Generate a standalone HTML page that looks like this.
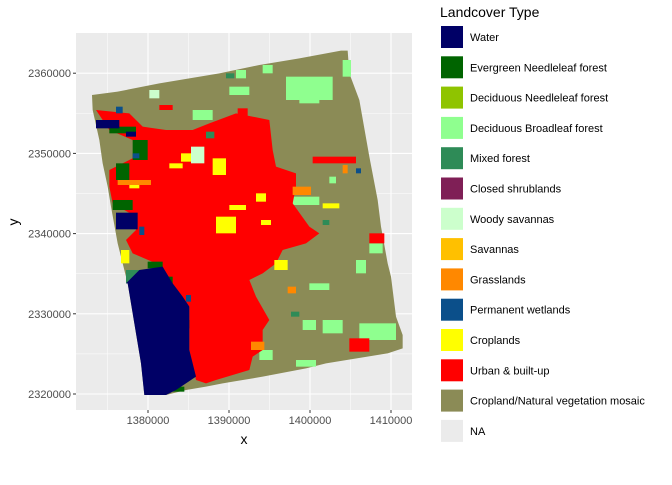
<!DOCTYPE html>
<html><head><meta charset="utf-8"><style>
body{margin:0;background:#fff;font-family:"Liberation Sans",sans-serif;}
</style></head><body>
<svg width="672" height="480" viewBox="0 0 672 480" font-family="Liberation Sans, sans-serif">
<rect x="76" y="33" width="336" height="377" fill="#ebebeb"/>
<g id="grid" stroke="#fff"></g>
<g transform="translate(76,30) scale(0.33333)">
<polygon fill="#8b8b56" points="48,195 125,185 250,160 430,130 550,105 670,85 795,62 815,62 820,130 850,210 880,380 905,510 915,590 935,700 945,740 960,860 980,915 980,955 935,970 750,1000 690,1015 560,1040 440,1060 390,1070 330,1080 270,1095 205,1095 195,1000 170,850 155,760 140,700 125,640 105,530 95,470 80,400 70,330 50,240"/>
<g fill="#8fff8f">
<rect x="630" y="140" width="140" height="70"/><rect x="670" y="200" width="60" height="20"/><rect x="800" y="90" width="25" height="50"/><rect x="460" y="170" width="60" height="25"/><rect x="350" y="240" width="60" height="30"/><rect x="560" y="105" width="30" height="25"/><rect x="480" y="120" width="30" height="25"/>
<rect x="850" y="880" width="110" height="50"/><rect x="740" y="870" width="60" height="40"/><rect x="680" y="870" width="40" height="30"/><rect x="880" y="640" width="40" height="30"/><rect x="650" y="500" width="80" height="25"/><rect x="700" y="760" width="60" height="20"/><rect x="660" y="990" width="60" height="20"/><rect x="550" y="960" width="40" height="30"/><rect x="840" y="690" width="30" height="40"/><rect x="760" y="440" width="20" height="20"/>
</g>
<polygon fill="#ff0000" points="60,240 160,250 200,290 270,300 350,300 400,280 480,250 580,270 590,360 600,410 660,430 660,470 650,520 700,590 730,610 690,640 620,660 600,700 560,730 520,750 540,800 580,870 560,900 560,960 530,980 520,1020 420,1050 390,1060 360,1050 340,960 340,830 300,790 260,740 240,700 170,670 150,630 180,600 180,560 110,520 100,470 100,420 180,380 170,330 100,300"/>
<g fill="#ff0000"><rect x="710" y="380" width="130" height="20"/><rect x="820" y="925" width="60" height="40"/><rect x="880" y="610" width="45" height="30"/><rect x="250" y="225" width="40" height="15"/><rect x="485" y="235" width="30" height="25"/></g>
<g fill="#ffff00">
<rect x="410" y="385" width="40" height="50"/><rect x="420" y="560" width="60" height="50"/><rect x="280" y="400" width="40" height="15"/><rect x="315" y="370" width="30" height="25"/><rect x="540" y="490" width="30" height="25"/><rect x="460" y="525" width="50" height="15"/><rect x="595" y="690" width="40" height="30"/><rect x="135" y="660" width="25" height="40"/><rect x="160" y="460" width="30" height="15"/><rect x="740" y="520" width="50" height="15"/><rect x="555" y="570" width="30" height="15"/></g>
<g fill="#ccffcc"><rect x="345" y="350" width="40" height="50"/><rect x="220" y="180" width="30" height="25"/></g>
<g fill="#ff8800"><rect x="125" y="450" width="100" height="15"/><rect x="650" y="470" width="55" height="25"/><rect x="800" y="405" width="15" height="25"/><rect x="525" y="935" width="40" height="25"/><rect x="635" y="770" width="25" height="20"/></g>
<g fill="#006400">
<rect x="170" y="330" width="45" height="60"/><rect x="120" y="400" width="40" height="50"/><rect x="110" y="510" width="60" height="30"/><rect x="100" y="290" width="80" height="20"/><rect x="260" y="740" width="30" height="25"/><rect x="290" y="1070" width="35" height="15"/><rect x="315" y="870" width="25" height="25"/><rect x="215" y="695" width="45" height="20"/></g>
<g fill="#2e8b57"><rect x="150" y="720" width="40" height="40"/><rect x="450" y="130" width="25" height="15"/><rect x="390" y="305" width="25" height="20"/><rect x="645" y="845" width="25" height="15"/><rect x="740" y="570" width="20" height="15"/></g>
<polygon fill="#000066" points="150,760 190,720 260,710 290,760 320,800 340,830 340,960 360,1040 300,1080 270,1095 205,1095 195,1000 170,850 155,760"/>
<g fill="#000066"><rect x="60" y="270" width="70" height="25"/><rect x="120" y="548" width="65" height="50"/><rect x="150" y="305" width="30" height="15"/></g>
<g fill="#0b4f8a"><rect x="120" y="230" width="20" height="20"/><rect x="170" y="370" width="20" height="15"/><rect x="190" y="590" width="15" height="25"/><rect x="330" y="795" width="15" height="20"/><rect x="840" y="415" width="15" height="15"/></g>
</g>
<g id="axes" font-size="11" fill="#4d4d4d"></g>
<text x="244" y="444" font-size="14" text-anchor="middle" fill="#000">x</text>
<text x="18" y="222" font-size="14" text-anchor="middle" fill="#000" transform="rotate(-90 18 222)">y</text>
<text x="440" y="17" font-size="14" fill="#000">Landcover Type</text>
<g id="legend" font-size="11" fill="#000"></g>
</svg>
<script>
const xTicks=[1380000,1390000,1400000,1410000];
const yTicks=[2320000,2330000,2340000,2350000,2360000];
const legendLabels=["Water","Evergreen Needleleaf forest","Deciduous Needleleaf forest","Deciduous Broadleaf forest","Mixed forest","Closed shrublands","Woody savannas","Savannas","Grasslands","Permanent wetlands","Croplands","Urban & built-up","Cropland/Natural vegetation mosaic","NA"];
const legendColors=["#000066","#006400","#8fc400","#8fff8f","#2e8b57","#7f1f56","#ccffcc","#ffc000","#ff8800","#0b4f8a","#ffff00","#ff0000","#8b8b56","#ebebeb"];
const NS="http://www.w3.org/2000/svg";
const sx=v=>148+(v-1380000)*81/10000;
const sy=v=>394-(v-2320000)*80.2/10000;
const grid=document.getElementById('grid'),axes=document.getElementById('axes'),leg=document.getElementById('legend');
function mk(t,a,p){const e=document.createElementNS(NS,t);for(const k in a)e.setAttribute(k,a[k]);p.appendChild(e);return e;}
for(let i=-1;i<xTicks.length;i++){const v=(i<0?xTicks[0]:xTicks[i])-5000*(i<0?1:-1)*0;}
const xs=[1375000,1385000,1395000,1405000];
xs.forEach(v=>{const l=mk('line',{x1:sx(v),x2:sx(v),y1:33,y2:410,'stroke-width':0.5},grid);});
[2325000,2335000,2345000,2355000].forEach(v=>{const l=mk('line',{x1:76,x2:412,y1:sy(v),y2:sy(v),'stroke-width':0.5},grid);});
xTicks.forEach(v=>{const l=mk('line',{x1:sx(v),x2:sx(v),y1:33,y2:410,'stroke-width':1.1},grid);
mk('line',{x1:sx(v),x2:sx(v),y1:410,y2:413,stroke:'#333'},axes);
const t=mk('text',{x:sx(v),y:424,'text-anchor':'middle'},axes);t.textContent=v;});
yTicks.forEach(v=>{const l=mk('line',{x1:76,x2:412,y1:sy(v),y2:sy(v),'stroke-width':1.1},grid);
mk('line',{x1:73,x2:76,y1:sy(v),y2:sy(v),stroke:'#333'},axes);
const t=mk('text',{x:71,y:sy(v)+4,'text-anchor':'end'},axes);t.textContent=v;});
legendLabels.forEach((s,i)=>{const y=26+i*30.3;
const r=mk('rect',{x:441,y:y,width:22,height:22,fill:legendColors[i]},leg);
const t=mk('text',{x:470,y:y+15},leg);t.textContent=s;});
</script>
</body></html>
